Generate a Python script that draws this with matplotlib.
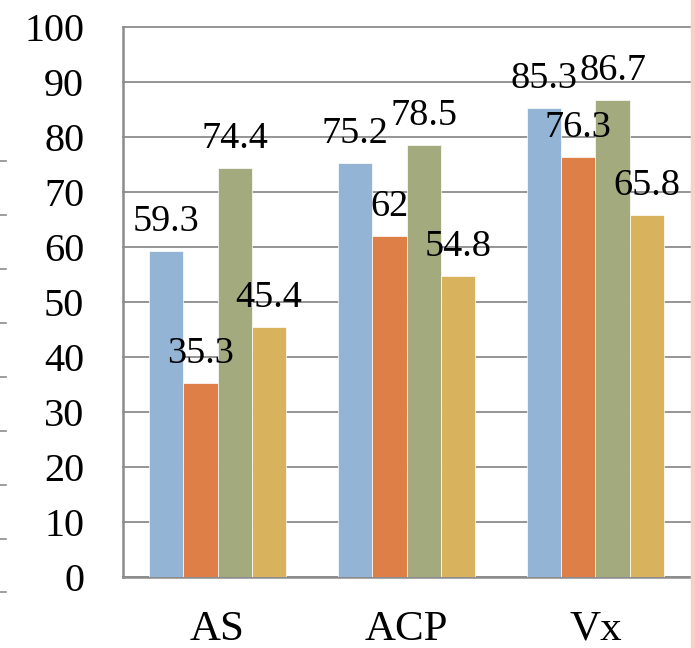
import matplotlib
matplotlib.use("Agg")
import matplotlib.pyplot as plt
from matplotlib.lines import Line2D
from matplotlib.patches import Rectangle
import numpy as np

categories = ["AS", "ACP", "Vx"]
series_a = [59.3, 75.2, 85.3]
series_b = [35.3, 62, 76.3]
series_c = [74.4, 78.5, 86.7]
series_d = [45.4, 54.8, 65.8]
y_ticks = [0, 10, 20, 30, 40, 50, 60, 70, 80, 90, 100]

series = [series_a, series_b, series_c, series_d]
colors = ["#93B4D5", "#DE7F48", "#A3AA7E", "#D9B25D"]

plt.rcParams["font.family"] = ["Liberation Serif", "DejaVu Serif"]
FS_LABEL = 27.5
FS_YTICK = 29
FS_XTICK = 31

fig = plt.figure(figsize=(6.95, 6.48), dpi=100)
ax = fig.add_axes([0.177, 0.1096, 0.9928 - 0.177, 0.9583 - 0.1096])

x = np.arange(len(categories))
width = 1 / 5.5
offsets = (np.arange(4) - 1.5) * width

for vals, col, off in zip(series, colors, offsets):
    bars = ax.bar(x + off, vals, width, color=col, edgecolor="white",
                  linewidth=0.5, zorder=3)
    for rect, v in zip(bars, vals):
        label = f"{v:g}"
        ax.annotate(label, (rect.get_x() + rect.get_width() / 2, v),
                    xytext=(0, 14.4), textcoords="offset points",
                    ha="center", va="baseline", fontsize=FS_LABEL, zorder=5)

ax.set_xlim(-0.5, len(categories) - 0.5)
ax.set_ylim(0, 100)
ax.set_yticks(y_ticks)
ax.set_yticklabels([str(t) for t in y_ticks], fontsize=FS_YTICK)
ax.set_xticks(x)
ax.set_xticklabels(categories, fontsize=FS_XTICK)
ax.tick_params(axis="y", length=0, pad=28)
ax.tick_params(axis="x", length=0, pad=24)

ax.grid(axis="y", color="#8C8C8C", linewidth=1.3, zorder=0)
for gl in ax.yaxis.get_gridlines():
    gl.set_clip_on(False)
ax.set_axisbelow(True)
for side in ["top", "right"]:
    ax.spines[side].set_visible(False)
for side in ["left", "bottom"]:
    ax.spines[side].set_color("#8C8C8C")
    ax.spines[side].set_linewidth(1.8)

# pink page border on the right edge
fig.patches.append(Rectangle((691 / 695, 0), 4 / 695, 1, transform=fig.transFigure,
                             color="#FBCFC6", zorder=0))

# short marks along the left page edge
for yp in [161, 215, 269, 323, 377, 431, 485, 539, 592]:
    yf = 1 - yp / 648
    fig.lines.append(Line2D([0, 6 / 695], [yf, yf], transform=fig.transFigure,
                            color="#8C8C8C", linewidth=1.2))

fig.savefig("out.png", dpi=100)
